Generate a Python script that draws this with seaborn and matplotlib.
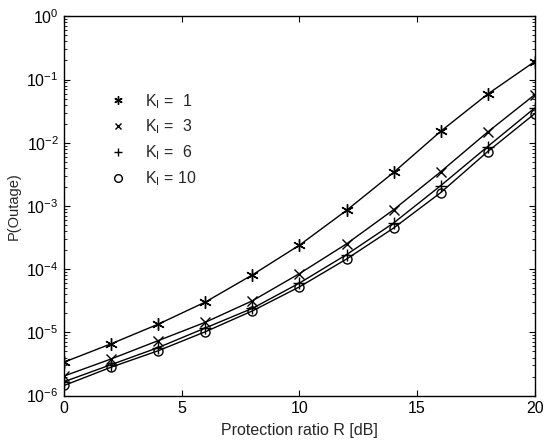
import numpy as np
import pandas as pd
import matplotlib
matplotlib.use("Agg")
import matplotlib.pyplot as plt
from matplotlib.lines import Line2D
from matplotlib.ticker import FixedLocator, NullFormatter, LogFormatterSciNotation
import seaborn as sns

sns.set_theme(style="ticks")
plt.rcParams['font.family'] = ['Liberation Sans', 'DejaVu Sans']
plt.rcParams['mathtext.fontset'] = 'custom'
plt.rcParams['mathtext.rm'] = 'Liberation Sans'
plt.rcParams['mathtext.it'] = 'Liberation Sans'

# Protection ratio R [dB]
R = [0, 2, 4, 6, 8, 10, 12, 14, 16, 18, 20]
# log10 of P(Outage)
k1_log = [-5.47, -5.18, -4.87, -4.52, -4.09, -3.62, -3.07, -2.47, -1.82, -1.23, -0.715]
k3_log = [-5.69, -5.42, -5.13, -4.84, -4.50, -4.07, -3.60, -3.06, -2.46, -1.83, -1.24]
k6_log = [-5.78, -5.51, -5.24, -4.93, -4.62, -4.22, -3.77, -3.27, -2.68, -2.06, -1.45]
k10_log = [-5.84, -5.55, -5.29, -4.99, -4.66, -4.28, -3.84, -3.35, -2.79, -2.14, -1.54]

series_names = ["K1", "K3", "K6", "K10"]
series_logs = [k1_log, k3_log, k6_log, k10_log]
markers = [(6, 2, 0), "x", "+", "o"]
marker_sizes = [9, 7, 8, 6.5]
legend_labels = ["K$_I$ =  1", "K$_I$ =  3", "K$_I$ =  6", "K$_I$ = 10"]
x_ticks = [0, 5, 10, 15, 20]
y_decades = [-6, -5, -4, -3, -2, -1, 0]

fig = plt.figure(figsize=(5.44, 4.41), dpi=100)
ax = fig.add_axes([0.118, 0.103, 0.865, 0.860])

for name, logs, m, ms in zip(series_names, series_logs, markers, marker_sizes):
    df = pd.DataFrame({"R": R, "P": 10.0 ** np.array(logs)})
    sns.lineplot(data=df, x="R", y="P", ax=ax, marker=m, markersize=ms,
                 color="black", linewidth=1.0, markeredgewidth=1.0,
                 markeredgecolor="black",
                 markerfacecolor="none" if m == "o" else "black")

ax.set_yscale("log")
ax.set_xlim(0, 20)
ax.set_ylim(1e-6, 1)
ax.xaxis.set_major_locator(FixedLocator(x_ticks))
ax.yaxis.set_major_locator(FixedLocator([10.0 ** e for e in y_decades]))
ax.yaxis.set_major_formatter(LogFormatterSciNotation())
minor = [s * 10.0 ** e for e in y_decades[:-1] for s in range(2, 10)]
ax.yaxis.set_minor_locator(FixedLocator(minor))
ax.yaxis.set_minor_formatter(NullFormatter())
ax.tick_params(which="both", direction="in", top=True, right=True, colors="black",
               labelsize=11.5, pad=4)
ax.tick_params(which="major", length=4, width=0.8)
ax.tick_params(which="minor", length=2, width=0.6)
for sp in ax.spines.values():
    sp.set_visible(True)
    sp.set_color("black")
    sp.set_linewidth(1.0)

ax.set_xlabel("Protection ratio R [dB]", fontsize=11.5, labelpad=5)
ax.set_ylabel("P(Outage)", fontsize=10.5, labelpad=4)

handles = [Line2D([], [], ls="none", marker=m, color="black",
                  markersize=s, markeredgewidth=1.0,
                  markerfacecolor="none" if m == "o" else "black")
           for m, s in zip(markers, [6, 5, 6, 5.5])]
ax.legend(handles, legend_labels, loc="upper left", bbox_to_anchor=(0.08, 0.822),
          frameon=False, fontsize=11.5, labelspacing=0.45, handlelength=1.0,
          handletextpad=1.2, borderpad=0)

fig.savefig("out.png", dpi=100, facecolor="white")
